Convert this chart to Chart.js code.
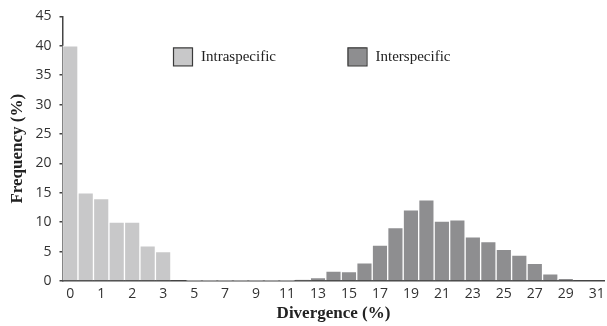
<!DOCTYPE html>
<html>
<head>
<meta charset="utf-8">
<script src="https://cdn.jsdelivr.net/npm/chart.js@4/dist/chart.umd.min.js"></script>
<style>
  html, body { margin: 0; padding: 0; background: #fff; }
  #wrap { width: 607px; height: 326px; position: relative; }
</style>
</head>
<body>
<div id="wrap"><canvas id="c" width="607" height="326"></canvas></div>
<script>
// Divergence bins (%)
const categories = ['0','0.5','1','1.5','2','2.5','3','4','5','6','7','8','9','10','11','12','13','14','15','16','17','18','19','20','21','22','23','24','25','26','27','28','29','30','31'];
// Frequency (%)
const intraspecific = [40, 15, 14, 10, 10, 6, 5, null, 0.1, 0.1, 0.1, 0.1, 0.1, 0.1, 0.1, null, null, null, null, null, null, null, null, null, null, null, null, null, null, null, null, null, null, null, null];
const interspecific = [null, null, null, null, null, null, null, null, null, null, null, null, null, null, null, 0.2, 0.6, 1.7, 1.6, 3.1, 6.1, 9.1, 12.1, 13.8, 10.2, 10.4, 7.5, 6.7, 5.4, 4.4, 3.0, 1.2, 0.45, null, null];
const yTicks = [0, 5, 10, 15, 20, 25, 30, 35, 40, 45];
const seriesNames = ['Intraspecific', 'Interspecific'];
const seriesColors = ['#c8c8c9', '#8e8e90'];

const legendPlugin = {
  id: 'customLegend',
  afterDraw(chart) {
    const ctx = chart.ctx;
    const a = chart.chartArea;
    const items = [
      { x: a.left + 110.5, label: seriesNames[0], color: seriesColors[0] },
      { x: a.left + 285, label: seriesNames[1], color: seriesColors[1] }
    ];
    ctx.save();
    items.forEach(it => {
      const y = a.top + 31;
      ctx.fillStyle = it.color;
      ctx.fillRect(it.x, y, 19, 18);
      ctx.strokeStyle = '#3a3a3a';
      ctx.lineWidth = 1.2;
      ctx.strokeRect(it.x + 0.5, y + 0.5, 19, 18);
      ctx.fillStyle = '#222';
      ctx.font = '15px "Liberation Serif", "Times New Roman", serif';
      ctx.textBaseline = 'middle';
      ctx.textAlign = 'left';
      ctx.fillText(it.label, it.x + 28, y + 10);
    });
    ctx.restore();
  }
};

new Chart(document.getElementById('c'), {
  type: 'bar',
  data: {
    labels: categories,
    datasets: [
      { label: seriesNames[0], data: intraspecific, backgroundColor: seriesColors[0], borderColor: '#ffffff', borderWidth: 1, borderSkipped: 'bottom' },
      { label: seriesNames[1], data: interspecific, backgroundColor: seriesColors[1], borderColor: '#ffffff', borderWidth: 1, borderSkipped: 'bottom' }
    ]
  },
  options: {
    responsive: false,
    animation: false,
    devicePixelRatio: 1,
    layout: { padding: { top: 12, left: 0, right: 2.5, bottom: 0 } },
    datasets: { bar: { grouped: false, categoryPercentage: 1.0, barPercentage: 1.0 } },
    plugins: { legend: { display: false }, tooltip: { enabled: false } },
    scales: {
      x: {
        afterFit: (s) => { s.height = 45; },
        grid: { display: true, drawOnChartArea: false, drawTicks: true, tickLength: 6, color: 'rgba(0,0,0,0)' },
        border: { display: true, color: '#444', width: 1.5 },
        ticks: {
          autoSkip: false,
          maxRotation: 0,
          padding: 0,
          color: '#333',
          font: { family: '"Open Sans", "Liberation Sans", sans-serif', size: 14, lineHeight: 1.0 },
          callback: function(v, i) { return i % 2 === 0 ? categories[i] : ''; }
        },
        title: {
          display: true, text: 'Divergence (%)', color: '#222',
          font: { family: '"Liberation Serif", "Times New Roman", serif', size: 17, weight: 'bold', lineHeight: 1.0 },
          padding: { top: 0, bottom: 4 }
        }
      },
      y: {
        min: 0, max: 45,
        afterFit: (s) => { s.width = 62.5; },
        afterBuildTicks: (s) => { s.ticks = yTicks.map(v => ({ value: v })); },
        grid: { display: true, drawOnChartArea: false, drawTicks: true, tickLength: 3, color: '#444', lineWidth: 1.5 },
        border: { display: true, color: '#444', width: 1.5 },
        ticks: {
          padding: 8,
          color: '#333',
          font: { family: '"Open Sans", "Liberation Sans", sans-serif', size: 14 }
        },
        title: {
          display: true, text: 'Frequency (%)', color: '#222',
          font: { family: '"Liberation Serif", "Times New Roman", serif', size: 17, weight: 'bold' },
          padding: { top: 7, bottom: 3 }
        }
      }
    }
  },
  plugins: [legendPlugin]
});
</script>
</body>
</html>
